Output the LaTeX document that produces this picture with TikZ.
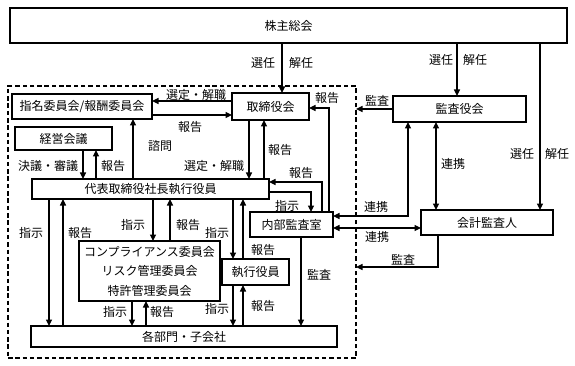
\documentclass[tikz,border=0pt]{standalone}
\usepackage{fontspec}
\setmainfont{Noto Sans CJK JP}
\usetikzlibrary{arrows.meta,calc}
\tikzset{
  box/.style={draw, line width=1.3pt, inner sep=0pt, outer sep=0pt, fill=white,
    font=\fontsize{12}{14}\selectfont},
  lbl/.style={inner sep=0pt, font=\fontsize{12}{14}\selectfont},
  arr/.style={line width=1.1pt, -{Triangle[length=6.5pt,width=6pt]}},
  darr/.style={line width=1.1pt, {Triangle[length=6.5pt,width=6pt]}-{Triangle[length=6.5pt,width=6pt]}},
  orgbox/.style={draw, line width=1.3pt, dash pattern=on 4.5pt off 2.8pt, inner sep=0pt, outer sep=0pt}
}
\begin{document}
\begin{tikzpicture}[x=1pt,y=-1pt]
\useasboundingbox (0,0) rectangle (575,366);
% columns / rows
\foreach \v in {282,457,540,133,83,96,249,264,329,322,311,49,63,153,170,132,146,233,243,301,408,436,438}
  {\coordinate (x\v) at (\v,0);}
\foreach \v in {101,115,108,182,192,216,228,267}
  {\coordinate (y\v) at (0,\v);}
% dashed organisation frame
\node[orgbox, minimum width=348pt, minimum height=272pt] (org) at (182,222) {};
% boxes
\node[box, minimum width=557pt, minimum height=35pt] (gm) at (288.5,25.5) {株主総会};
\node[box, minimum width=140pt, minimum height=25pt] (nom) at (82,106.5) {指名委員会/報酬委員会};
\node[box, minimum width=77pt, minimum height=27pt] (bod) at (270.5,106.5) {取締役会};
\node[box, minimum width=97pt, minimum height=23pt] (mgt) at (63.5,138.5) {経営会議};
\node[box, minimum width=237pt, minimum height=20pt] (ceo) at (150.5,189) {代表取締役社長執行役員};
\node[box, minimum width=83pt, minimum height=25pt] (ia) at (291.5,224.5) {内部監査室};
\node[box, minimum width=141pt, minimum height=60pt, align=center,
  font=\fontsize{12}{19.5}\selectfont] (comp) at (149.5,271)
  {コンプライアンス委員会\\リスク管理委員会\\特許管理委員会};
\node[box, minimum width=67pt, minimum height=26pt] (exe) at (255.5,272) {執行役員};
\node[box, minimum width=306pt, minimum height=21pt] (dept) at (184,336.5) {各部門・子会社};
\node[box, minimum width=133pt, minimum height=26pt] (kan) at (459.5,109) {監査役会};
\node[box, minimum width=132pt, minimum height=25pt] (acc) at (487,222.5) {会計監査人};
% connectors
\draw[arr] (gm.south -| x282) -- (bod.north -| x282);
\draw[arr] (gm.south -| x457) -- (kan.north -| x457);
\draw[arr] (gm.south -| x540) -- (acc.north -| x540);
\draw[arr] (bod.west |- y101) -- (nom.east |- y101);
\draw[arr] (nom.east |- y115) -- (bod.west |- y115);
\draw[arr] (ceo.north -| x133) -- (nom.south -| x133);
\draw[arr] (mgt.south -| x83) -- (ceo.north -| x83);
\draw[arr] (ceo.north -| x96) -- (mgt.south -| x96);
\draw[arr] (bod.south -| x249) -- (ceo.north -| x249);
\draw[arr] (ceo.north -| x264) -- (bod.south -| x264);
\draw[arr] (ia.north -| x329) |- (bod.east |- y108);
\draw[arr] (ia.north -| x322) |- (ceo.east |- y182);
\draw[arr] (ceo.east |- y192) -| (ia.north -| x311);
\draw[arr] (ceo.south -| x49) -- (dept.north -| x49);
\draw[arr] (dept.north -| x63) -- (ceo.south -| x63);
\draw[arr] (ceo.south -| x153) -- (comp.north -| x153);
\draw[arr] (comp.north -| x170) -- (ceo.south -| x170);
\draw[arr] (comp.south -| x132) -- (dept.north -| x132);
\draw[arr] (dept.north -| x146) -- (comp.south -| x146);
\draw[arr] (ceo.south -| x233) -- (exe.north -| x233);
\draw[arr] (exe.north -| x243) -- (ceo.south -| x243);
\draw[arr] (exe.south -| x233) -- (dept.north -| x233);
\draw[arr] (dept.north -| x243) -- (exe.south -| x243);
\draw[arr] (ia.south -| x301) -- (dept.north -| x301);
\draw[arr] (kan.west) -- (kan.west -| org.east);
\draw[darr] (kan.south -| x408) |- (ia.east |- y216);
\draw[darr] (ia.east |- y228) -- (acc.west |- y228);
\draw[darr] (kan.south -| x436) -- (acc.north -| x436);
\draw[arr] (acc.south -| x438) |- (org.east |- y267);
% labels
\node[lbl] (t1) at (263,63) {選任};
\node[lbl] (t2) at (301,63) {解任};
\node[lbl] (t3) at (441,60) {選任};
\node[lbl] (t4) at (475,60) {解任};
\node[lbl] (t5) at (522,154) {選任};
\node[lbl] (t6) at (557,154) {解任};
\node[lbl] (t7) at (196,95) {選定・解職};
\node[lbl] (t8) at (190,127) {報告};
\node[lbl] (t9) at (160,146) {諮問};
\node[lbl] (t10) at (48,166) {決議・審議};
\node[lbl] (t11) at (113,166) {報告};
\node[lbl] (t12) at (214,166) {選定・解職};
\node[lbl] (t13) at (280,150) {報告};
\node[lbl] (t14) at (327,98) {報告};
\node[lbl] (t15) at (301,173) {報告};
\node[lbl] (t16) at (287,206) {指示};
\node[lbl] (t17) at (31,233) {指示};
\node[lbl] (t18) at (80,233) {報告};
\node[lbl] (t19) at (133,225) {指示};
\node[lbl] (t20) at (188,225) {報告};
\node[lbl] (t21) at (217,233) {指示};
\node[lbl] (t22) at (263,250) {報告};
\node[lbl] (t23) at (115,312) {指示};
\node[lbl] (t24) at (162,312) {報告};
\node[lbl] (t25) at (217,309) {指示};
\node[lbl] (t26) at (263,306) {報告};
\node[lbl] (t27) at (319,275) {監査};
\node[lbl] (t28) at (377,101) {監査};
\node[lbl] (t29) at (376,207) {連携};
\node[lbl] (t30) at (377,237) {連携};
\node[lbl] (t31) at (453,164) {連携};
\node[lbl] (t32) at (403,260) {監査};
\end{tikzpicture}
\end{document}
